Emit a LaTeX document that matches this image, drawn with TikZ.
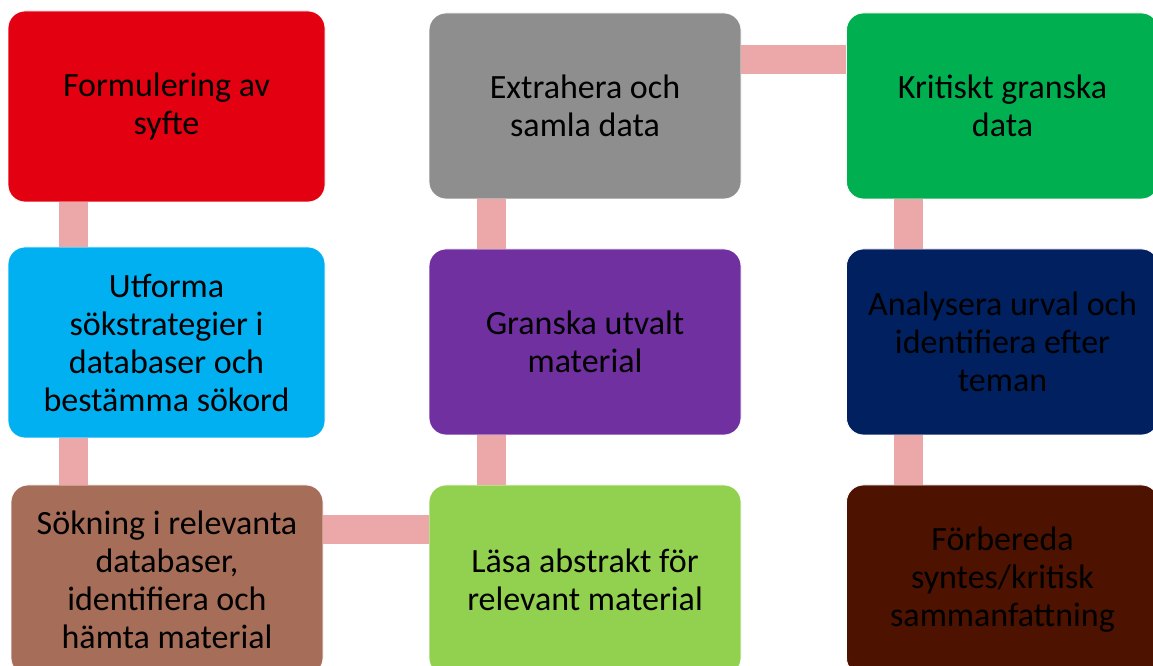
\documentclass[tikz,border=0pt]{standalone}
\usepackage{fontspec}
\setmainfont{Carlito}
\definecolor{stepred}{HTML}{E30010}
\definecolor{stepgray}{HTML}{8E8E8E}
\definecolor{stepgreen}{HTML}{00B050}
\definecolor{stepblue}{HTML}{00B0F0}
\definecolor{steppurple}{HTML}{7030A0}
\definecolor{stepnavy}{HTML}{002060}
\definecolor{steptan}{HTML}{A66D58}
\definecolor{steplime}{HTML}{92D050}
\definecolor{stepbrown}{HTML}{4D1200}
\definecolor{linkpink}{HTML}{ECA8A9}
\begin{document}
\begin{tikzpicture}[x=1pt,y=1pt,
    stepbox/.style={rounded corners=17pt, minimum width=312pt, minimum height=188pt,
      inner sep=0pt, align=center, draw=white, line width=0.8pt,
      font=\fontsize{34}{38}\selectfont},
    link/.style={draw=linkpink, line width=29pt}]
  \useasboundingbox (0,0) rectangle (1153,666);
      \draw
        (166.5,559.5) node[stepbox, fill=stepred, minimum width=317pt, minimum height=191pt] (syfte){Formulering av\\syfte}
        (585,560) node[stepbox, fill=stepgray, minimum height=186pt] (extrahera){Extrahera och\\samla data}
        (1002.5,560) node[stepbox, fill=stepgreen, minimum height=186pt] (kritiskt){Kritiskt granska\\data}
        (166.5,323.5) node[stepbox, fill=stepblue, minimum width=317pt, minimum height=191pt] (utforma){Utforma\\sökstrategier i\\databaser och\\bestämma sökord}
        (585,324) node[stepbox, fill=steppurple, minimum height=186pt] (granska){Granska utvalt\\material}
        (1002.5,324) node[stepbox, fill=stepnavy, minimum height=186pt] (analysera){Analysera urval och\\identifiera efter\\teman}
        (167,86) node[stepbox, fill=steptan, minimum height=190pt] (sokning){Sökning i relevanta\\databaser,\\identifiera och\\hämta material}
        (585,86) node[stepbox, fill=steplime, minimum height=190pt] (lasa){Läsa abstrakt för\\relevant material}
        (1002.5,86) node[stepbox, fill=stepbrown, minimum height=190pt] (forbereda){Förbereda\\syntes/kritisk\\sammanfattning};
      \begin{scope}[link]
        \draw ([xshift=65.5pt]syfte.south west) to ([xshift=65.5pt]utforma.north west);
        \draw ([xshift=65.5pt]utforma.south west) to ([xshift=65.5pt]utforma.south west |- sokning.north);
        \draw ([yshift=-45pt]sokning.north east) to ([yshift=-45pt]lasa.north west);
        \draw ([xshift=62.5pt]lasa.north west) to ([xshift=62.5pt]granska.south west);
        \draw ([xshift=62.5pt]granska.north west) to ([xshift=62.5pt]extrahera.south west);
        \draw ([yshift=-46.5pt]extrahera.north east) to ([yshift=-46.5pt]kritiskt.north west);
        \draw ([xshift=62.5pt]kritiskt.south west) to ([xshift=62.5pt]analysera.north west);
        \draw ([xshift=62.5pt]analysera.south west) to ([xshift=62.5pt]forbereda.north west);
      \end{scope}
    \end{tikzpicture}
\end{document}
